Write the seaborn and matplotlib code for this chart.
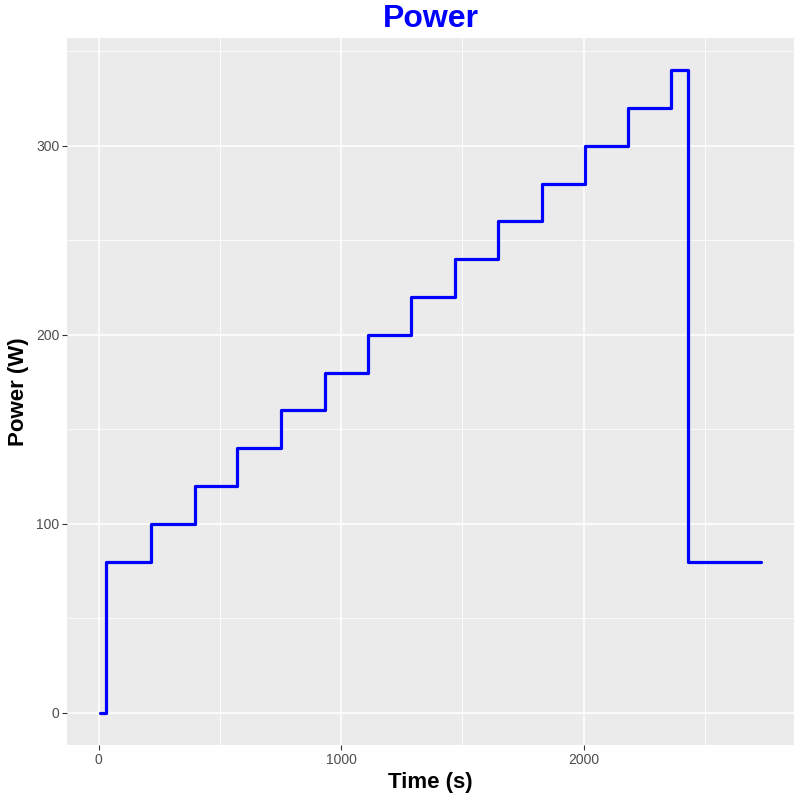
import pandas as pd
import matplotlib.pyplot as plt
import seaborn as sns
from matplotlib.ticker import MultipleLocator

# Data: step changes of the power protocol
time_s = [5, 30, 214, 395, 572, 753, 934, 1111, 1288, 1469, 1646, 1827, 2004, 2185, 2362, 2430, 2732]
power_w = [0, 80, 100, 120, 140, 160, 180, 200, 220, 240, 260, 280, 300, 320, 340, 80, 80]

df = pd.DataFrame({'Time (s)': time_s, 'Power (W)': power_w})

sns.set_theme(style='darkgrid', rc={
    'axes.facecolor': '#EBEBEB',
    'grid.color': 'white',
})
plt.rcParams['font.family'] = ['Liberation Sans', 'DejaVu Sans']

fig = plt.figure(figsize=(7.95, 7.96), dpi=100)
ax = fig.add_axes([67 / 795, 51 / 796, 727 / 795, 707 / 796])

sns.lineplot(data=df, x='Time (s)', y='Power (W)', ax=ax, color='#0000FF',
             linewidth=2.3, drawstyle='steps-post')

# ggplot-like expansion of 5%
xr = max(time_s) - min(time_s)
yr = max(power_w) - min(power_w)
ax.set_xlim(min(time_s) - 0.05 * xr, max(time_s) + 0.05 * xr)
ax.set_ylim(min(power_w) - 0.05 * yr, max(power_w) + 0.05 * yr)

ax.xaxis.set_major_locator(MultipleLocator(1000))
ax.xaxis.set_minor_locator(MultipleLocator(500))
ax.yaxis.set_major_locator(MultipleLocator(100))
ax.yaxis.set_minor_locator(MultipleLocator(50))
ax.grid(True, which='major', color='white', linewidth=1.1)
ax.grid(True, which='minor', color='white', linewidth=0.55)
for s in ax.spines.values():
    s.set_visible(False)

ax.tick_params(axis='both', which='major', length=3.5, width=0.8, color='#333333',
               labelsize=10, labelcolor='#4D4D4D', pad=2, bottom=True, left=True)
ax.tick_params(axis='both', which='minor', length=0)

ax.set_title('Power', fontsize=23, fontweight='bold', color='#0000FF', pad=8)
ax.set_xlabel('Time (s)', fontsize=16, fontweight='bold', color='black', labelpad=4)
ax.set_ylabel('Power (W)', fontsize=16, fontweight='bold', color='black', labelpad=5)

plt.savefig('out.png', dpi=100)
